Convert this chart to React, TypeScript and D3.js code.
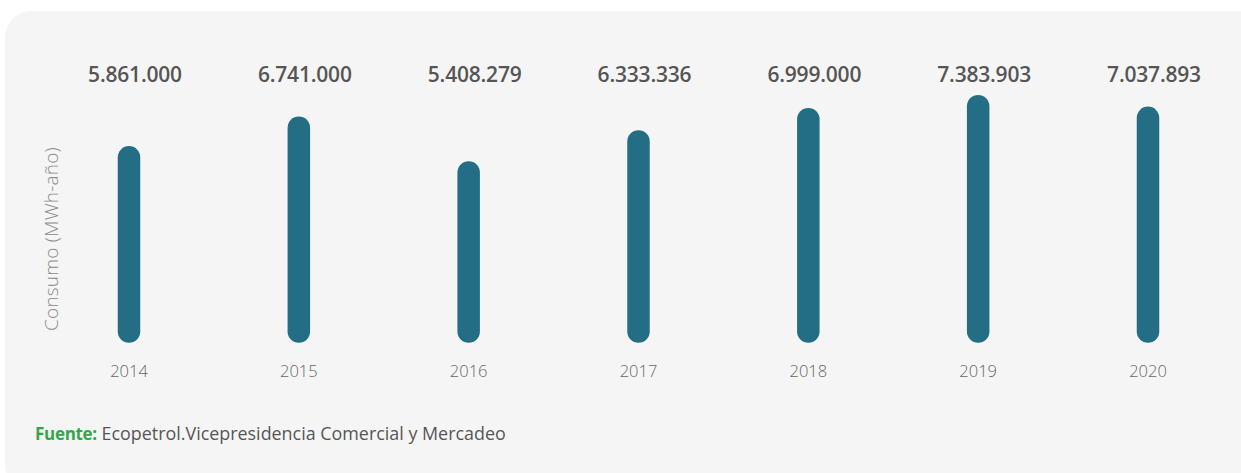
import React from "react";
import * as d3 from "d3";

const years = ["2014", "2015", "2016", "2017", "2018", "2019", "2020"];
const values = [5861000, 6741000, 5408279, 6333336, 6999000, 7383903, 7037893];
const valueLabels = ["5.861.000", "6.741.000", "5.408.279", "6.333.336", "6.999.000", "7.383.903", "7.037.893"];
const yAxisTitle = "Consumo (MWh-año)";
const sourceLabel = "Fuente:";
const sourceText = " Ecopetrol.Vicepresidencia Comercial y Mercadeo";

export default function App() {
  const W = 1241, H = 473;
  const x = d3.scalePoint<string>().domain(years).range([129, 1148]);
  const y = d3.scaleLinear().domain([0, 7383903]).range([342.7, 95]);
  const bw = 22.5;
  const font = "'Open Sans', sans-serif";
  return (
    <svg width={W} height={H} style={{ position: "absolute", left: 0, top: 0 }}>
      <rect x={5} y={11} width={1260} height={480} rx={26} fill="#f5f5f5" />
      {years.map((yr, i) => {
        const cx = x(yr)!;
        const top = y(values[i]);
        return (
          <g key={yr}>
            <rect x={cx - bw / 2} y={top} width={bw} height={y(0) - top} rx={bw / 2} fill="#236e84" />
            <text x={cx + 6} y={82} textAnchor="middle" fontFamily={font} fontWeight={600} fontSize={21} fill="#555555" letterSpacing={-0.2}>
              {valueLabels[i]}
            </text>
            <text x={cx} y={377} textAnchor="middle" fontFamily={font} fontWeight={300} fontSize={16.5} fill="#666666">
              {yr}
            </text>
          </g>
        );
      })}
      <text transform="translate(58,239) rotate(-90)" textAnchor="middle" fontFamily={font} fontWeight={300} fontSize={19} letterSpacing={0.2} fill="#8a8a8a">
        {yAxisTitle}
      </text>
      <text x={35} y={440} fontFamily={font} fontSize={17.9} fill="#555555">
        <tspan fill="#34a64a" fontWeight={700} fontSize={17} letterSpacing={-0.3}>{sourceLabel}</tspan>
        <tspan>{sourceText}</tspan>
      </text>
    </svg>
  );
}
